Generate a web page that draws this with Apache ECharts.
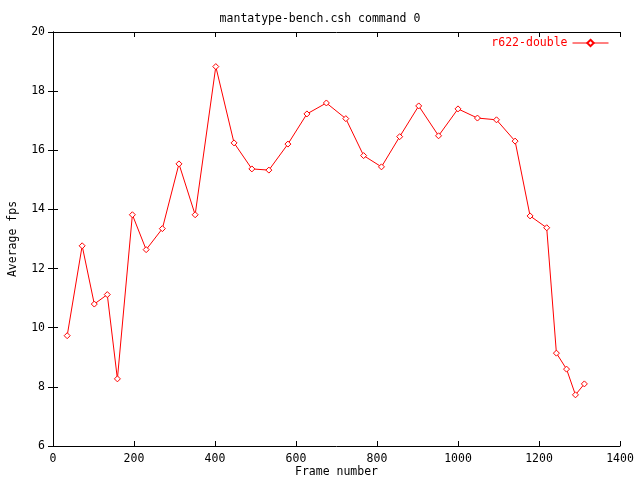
<!DOCTYPE html>
<html><head><meta charset="utf-8">
<script src="https://cdn.jsdelivr.net/npm/echarts@6/dist/echarts.min.js"></script>
<style>html,body{margin:0;padding:0;background:#fff}#c{width:640px;height:480px}</style>
</head><body><div id="c"></div>
<script>
const title = 'mantatype-bench.csh command 0';
const seriesName = 'r622-double';
const xAxisName = 'Frame number';
const yAxisName = 'Average fps';
const frames = [35,72,102,134,159,196,230,270,311,351,402,447,491,533,580,627,675,723,767,811,856,903,952,1000,1048,1095,1141,1178,1219,1243,1268,1290,1312];
const fps = [9.73,12.77,10.8,11.12,8.27,13.82,12.64,13.35,15.54,13.82,18.83,16.25,15.37,15.33,16.21,17.23,17.6,17.07,15.82,15.44,16.46,17.5,16.49,17.4,17.09,17.03,16.31,13.78,13.38,9.14,8.6,7.73,8.1];

const font = 'DejaVu Sans Mono';
const axisCommon = {
  axisLine:{show:true,lineStyle:{color:'#000',width:1}},
  axisTick:{show:true,inside:true,length:5,lineStyle:{color:'#000'}},
  splitLine:{show:false}
};
const chart = echarts.init(document.getElementById('c'), null, {renderer:'canvas'});
chart.setOption({
  animation:false,
  backgroundColor:'#fff',
  title:{text:title,left:'center',top:8,textStyle:{fontFamily:font,fontSize:11.5,fontWeight:'normal',color:'#000'}},
  legend:{
    show:true,right:26,top:32,align:'right',itemWidth:36,itemHeight:8,itemGap:6,
    lineStyle:{width:1},
    textStyle:{fontFamily:font,fontSize:11.5,color:'#ff0000'},
    data:[{name:seriesName}]
  },
  grid:{left:53,right:20,top:32,bottom:34,containLabel:false,outerBoundsMode:'none'},
  xAxis:[
    Object.assign({type:'value',min:0,max:1400,interval:200,position:'bottom',
      name:xAxisName,nameLocation:'middle',nameGap:26,nameMoveOverlap:false,
      nameTextStyle:{fontFamily:font,fontSize:11.5,color:'#000',verticalAlign:'middle'},
      axisLabel:{fontFamily:font,fontSize:11.5,color:'#000',margin:7,formatter:v=>String(v)}},axisCommon),
    Object.assign({type:'value',min:0,max:1400,interval:200,position:'top',
      axisLabel:{show:false}},axisCommon)
  ],
  yAxis:[
    Object.assign({type:'value',min:6,max:20,interval:2,position:'left',
      name:yAxisName,nameLocation:'middle',nameGap:34,nameRotate:90,nameMoveOverlap:false,
      nameTextStyle:{fontFamily:font,fontSize:11.5,color:'#000'},
      axisLabel:{fontFamily:font,fontSize:11.5,color:'#000',margin:8,formatter:v=>String(v)}},axisCommon),
    Object.assign({type:'value',min:6,max:20,interval:2,position:'right',
      axisLabel:{show:false}},axisCommon)
  ],
  series:[{
    name:seriesName,type:'line',xAxisIndex:0,yAxisIndex:0,
    data:frames.map((f,i)=>[f,fps[i]]),
    symbol:'diamond',symbolSize:6,showAllSymbol:true,
    lineStyle:{color:'#ff0000',width:1},
    itemStyle:{color:'#fff',borderColor:'#ff0000',borderWidth:1},
    emphasis:{disabled:true}
  }]
});
</script></body></html>
